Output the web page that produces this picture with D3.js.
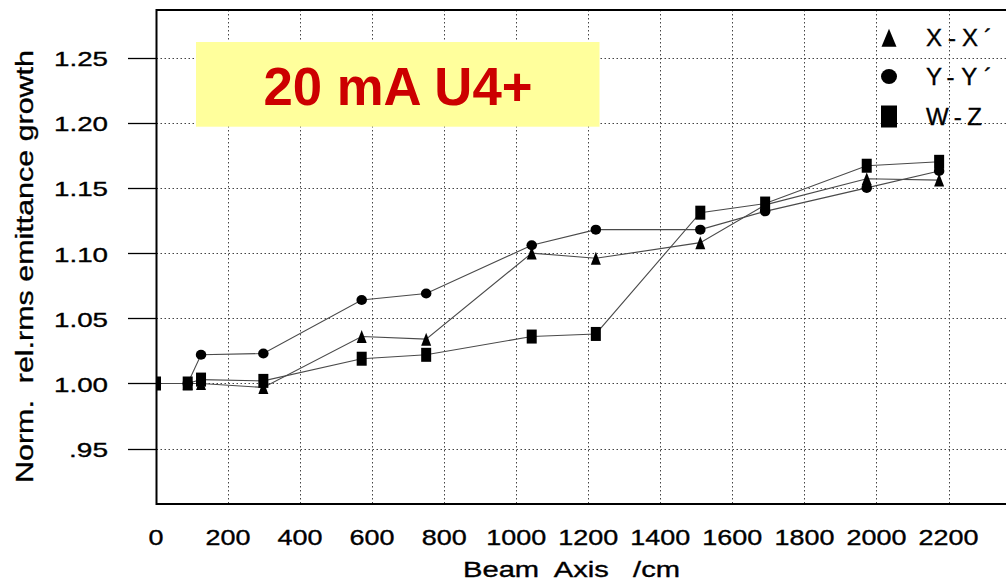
<!DOCTYPE html>
<html>
<head>
<meta charset="utf-8">
<script src="https://cdn.jsdelivr.net/npm/d3@7"></script>
<style>
  html, body { margin: 0; padding: 0; background: #fff; }
  svg { display: block; }
  text { font-family: "Liberation Sans", Arial, Helvetica, sans-serif; white-space: pre; }
  .lbl { stroke: #000; stroke-width: 0.35; }
</style>
</head>
<body>
<svg id="chart" width="1006" height="582"></svg>
<script>
// ---- data ----
const positions = [0, 88, 125, 298, 571, 750, 1043, 1221, 1511, 1691, 1973, 2174];
const xxValues  = [1.000, 1.000, 1.000, 0.997, 1.036, 1.034, 1.100, 1.096, 1.108, 1.137, 1.157, 1.156];
const yyValues  = [1.000, 1.000, 1.022, 1.023, 1.064, 1.069, 1.106, 1.118, 1.118, 1.132, 1.150, 1.163];
const wzValues  = [1.000, 1.000, 1.003, 1.002, 1.019, 1.022, 1.036, 1.038, 1.131, 1.138, 1.167, 1.170];
const seriesNames = ["X-X\u00B4", "Y-Y\u00B4", "W-Z"];
const xTicks = [0, 200, 400, 600, 800, 1000, 1200, 1400, 1600, 1800, 2000, 2200];
const yTicks = [0.95, 1.00, 1.05, 1.10, 1.15, 1.20, 1.25];
const yTickLabels = [".95", "1.00", "1.05", "1.10", "1.15", "1.20", "1.25"];
const titleText = "20 mA U4+";
const xTitle = "Beam  Axis   /cm";
const yTitle = "Norm.  rel.rms emittance growth";

// ---- layout ----
const svg = d3.select("#chart");
const plotLeft = 156.5, plotTop = 10, plotBottom = 504, plotRight = 1030;
const x = d3.scaleLinear().domain([0, 2200]).range([156, 948.5]);
const y = d3.scaleLinear().domain([0.95, 1.25]).range([448.7, 57.5]);

svg.append("defs").append("clipPath").attr("id", "plotclip")
  .append("rect").attr("x", plotLeft).attr("y", plotTop)
  .attr("width", plotRight - plotLeft).attr("height", plotBottom - plotTop);

// grid
const grid = svg.append("g");
grid.selectAll("line.vg").data(xTicks.filter(d => d > 0).concat([2400]))
  .enter().append("line")
  .attr("x1", d => Math.round(x(d)) + 0.5).attr("x2", d => Math.round(x(d)) + 0.5)
  .attr("y1", plotTop).attr("y2", plotBottom)
  .attr("stroke", "#444").attr("stroke-width", 1).attr("stroke-dasharray", "1.5,2.5");
grid.selectAll("line.hg").data(yTicks)
  .enter().append("line")
  .attr("x1", plotLeft).attr("x2", plotRight)
  .attr("y1", d => Math.round(y(d)) + 0.5).attr("y2", d => Math.round(y(d)) + 0.5)
  .attr("stroke", "#444").attr("stroke-width", 1).attr("stroke-dasharray", "1.5,2.5");

// title box
svg.append("rect").attr("x", 196).attr("y", 42).attr("width", 403.5).attr("height", 84.7)
  .attr("fill", "#ffff9c");
svg.append("text").attr("x", 398).attr("y", 105).attr("text-anchor", "middle")
  .attr("font-size", 54).attr("font-weight", "bold").attr("fill", "#cc0000")
  .attr("textLength", 269).attr("lengthAdjust", "spacingAndGlyphs")
  .text(titleText);

// series
const series = [
  { name: seriesNames[0], values: xxValues, shape: "triangle" },
  { name: seriesNames[1], values: yyValues, shape: "circle" },
  { name: seriesNames[2], values: wzValues, shape: "square" }
];
const line = d3.line().x(d => x(d[0])).y(d => y(d[1]));
const plot = svg.append("g").attr("clip-path", "url(#plotclip)");
series.forEach(s => {
  const pts = positions.map((p, i) => [p, s.values[i]]);
  plot.append("path").attr("d", line(pts)).attr("fill", "none")
    .attr("stroke", "#4a4a4a").attr("stroke-width", 1.1);
});

function drawMarker(g, shape, cx, cy, w, h) {
  if (shape === "square") {
    g.append("rect").attr("x", cx - w / 2).attr("y", cy - h / 2)
      .attr("width", w).attr("height", h).attr("fill", "#000");
  } else if (shape === "circle") {
    g.append("ellipse").attr("cx", cx).attr("cy", cy)
      .attr("rx", w / 2).attr("ry", h / 2).attr("fill", "#000");
  } else {
    g.append("path")
      .attr("d", `M${cx},${cy - h / 2}L${cx + w / 2},${cy + h / 2}L${cx - w / 2},${cy + h / 2}Z`)
      .attr("fill", "#000");
  }
}
const sizes = { triangle: [10, 13], circle: [10.5, 10], square: [10, 14] };
series.forEach(s => {
  positions.forEach((p, i) => {
    drawMarker(plot, s.shape, x(p), y(s.values[i]), sizes[s.shape][0], sizes[s.shape][1]);
  });
});

// frame
svg.append("rect").attr("x", plotLeft).attr("y", plotTop)
  .attr("width", plotRight - plotLeft).attr("height", plotBottom - plotTop)
  .attr("fill", "none").attr("stroke", "#000").attr("stroke-width", 2);

// y axis ticks & labels
const yAxisG = svg.append("g");
yAxisG.selectAll("line").data(yTicks).enter().append("line")
  .attr("x1", 128).attr("x2", plotLeft)
  .attr("y1", d => Math.round(y(d)) + 0.5).attr("y2", d => Math.round(y(d)) + 0.5)
  .attr("stroke", "#000").attr("stroke-width", 1.3);
yAxisG.selectAll("text").data(yTicks).enter().append("text")
  .attr("class", "lbl")
  .attr("x", 108).attr("y", d => y(d) + 8.5).attr("text-anchor", "end")
  .attr("font-size", 21).attr("fill", "#000")
  .attr("textLength", (d, i) => yTickLabels[i].length === 3 ? 39 : 54)
  .attr("lengthAdjust", "spacingAndGlyphs")
  .text((d, i) => yTickLabels[i]);

// x axis labels
svg.append("g").selectAll("text").data(xTicks).enter().append("text")
  .attr("class", "lbl")
  .attr("x", d => x(d)).attr("y", 545).attr("text-anchor", "middle")
  .attr("font-size", 22).attr("fill", "#000")
  .attr("textLength", d => String(d).length * 15)
  .attr("lengthAdjust", "spacingAndGlyphs")
  .text(d => d);

// axis titles
svg.append("text").attr("class", "lbl").attr("x", 571.5).attr("y", 577).attr("text-anchor", "middle")
  .attr("font-size", 22).attr("fill", "#000")
  .attr("textLength", 217).attr("lengthAdjust", "spacingAndGlyphs")
  .text(xTitle);
svg.append("text").attr("class", "lbl").attr("transform", "translate(33,266.5) rotate(-90)")
  .attr("text-anchor", "middle").attr("font-size", 23).attr("fill", "#000")
  .attr("textLength", 433).attr("lengthAdjust", "spacingAndGlyphs")
  .text(yTitle);

// legend
const legendY = [37.7, 76.5, 116.5];
const legendSizes = { triangle: [15, 18], circle: [16, 15], square: [16, 22] };
const legendWidths = [66, 66, 56];
series.forEach((s, i) => {
  drawMarker(svg, s.shape, 889, legendY[i], legendSizes[s.shape][0], legendSizes[s.shape][1]);
  svg.append("text").attr("class", "lbl").attr("x", 926).attr("y", legendY[i] + 8.5)
    .attr("font-size", 24).attr("fill", "#000")
    .attr("textLength", legendWidths[i]).attr("lengthAdjust", "spacing")
    .text(s.name);
});
</script>
</body>
</html>
